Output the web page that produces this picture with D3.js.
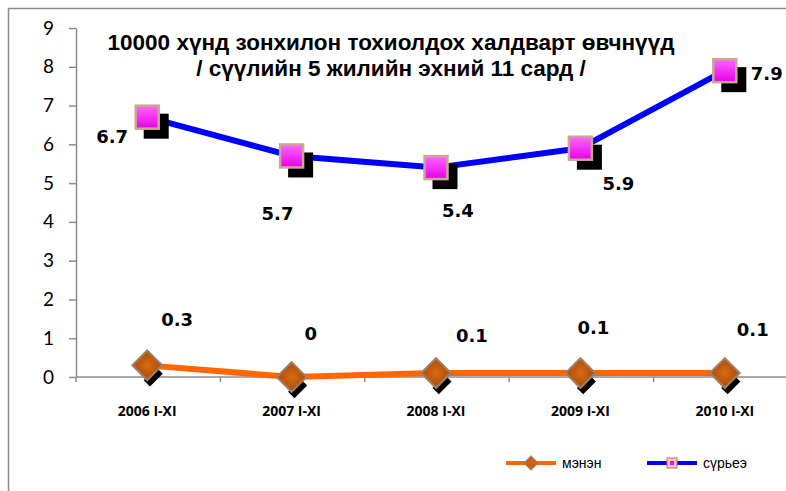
<!DOCTYPE html>
<html>
<head>
<meta charset="utf-8">
<script src="https://cdn.jsdelivr.net/npm/d3@7"></script>
<style>
  body { margin: 0; background: #fff; }
  svg { display: block; }
</style>
</head>
<body>
<div id="chart"></div>
<script>
// chart data
const categories = ["2006 I-XI", "2007 I-XI", "2008 I-XI", "2009 I-XI", "2010 I-XI"];
const menenValues = [0.3, 0, 0.1, 0.1, 0.1];      // мэнэн
const suryeeValues = [6.7, 5.7, 5.4, 5.9, 7.9];  // сүрьеэ
const yTicks = [0, 1, 2, 3, 4, 5, 6, 7, 8, 9];
const seriesNames = ["мэнэн", "сүрьеэ"];
const titleLines = ["10000 хүнд зонхилон тохиолдох халдварт өвчнүүд", "/ сүүлийн 5 жилийн эхний 11 сард /"];

// label offsets (relative to the point) as placed in the original
const suryeeLabelOff = [[-51, 26], [-30, 64], [6, 49], [22, 42], [26, 9]];
const menenLabelOff = [[14, -39], [13, -37], [20, -31], [-3, -39], [12, -37]];

const width = 786, height = 491;
const svg = d3.select('#chart').append('svg')
    .attr('width', width)
    .attr('height', height);

// outer frame (only left and top visible)
svg.append('path')
    .attr('d', 'M8.5,491 L8.5,8.5 L786,8.5')
    .attr('fill', 'none')
    .attr('stroke', '#8c8c8c')
    .attr('stroke-width', 1.5);

const x = d3.scaleBand()
    .domain(categories)
    .range([75, 797]);

const y = d3.scaleLinear()
    .domain([0, 9])
    .range([377, 28]);

const cx = d => x(d) + x.bandwidth() / 2;

// y axis
const yAxis = d3.axisLeft(y)
    .tickValues(yTicks)
    .tickSize(7)
    .tickPadding(15)
    .tickSizeOuter(0);
const yAxisG = svg.append('g')
    .attr('transform', 'translate(76,0)')
    .call(yAxis);
yAxisG.selectAll('text')
    .attr('font-family', 'Lato, "Open Sans", sans-serif')
    .attr('font-size', 19)
    .attr('fill', '#000');
yAxisG.selectAll('line, path').attr('stroke', '#8c8c8c').attr('stroke-width', 1.5);

// x axis, ticks between categories
const xAxisG = svg.append('g')
    .attr('transform', `translate(0,${y(0)})`);
xAxisG.append('line')
    .attr('x1', 76).attr('x2', 786)
    .attr('stroke', '#8c8c8c').attr('stroke-width', 1.5);
xAxisG.selectAll('.xtick')
    .data(categories)
    .enter().append('line')
    .attr('x1', d => x(d) + 1).attr('x2', d => x(d) + 1)
    .attr('y1', 0).attr('y2', 5)
    .attr('stroke', '#8c8c8c').attr('stroke-width', 1.5);
xAxisG.selectAll('.xlabel')
    .data(categories)
    .enter().append('text')
    .attr('x', d => cx(d))
    .attr('y', 39)
    .attr('text-anchor', 'middle')
    .attr('font-family', '"Open Sans", Lato, sans-serif')
    .attr('font-weight', 'bold')
    .attr('font-size', 14)
    .text(d => d);

// title
svg.append('g').selectAll('text')
    .data(titleLines)
    .enter().append('text')
    .attr('x', 391)
    .attr('y', (d, i) => 50 + i * 26)
    .attr('text-anchor', 'middle')
    .attr('font-family', '"Liberation Sans", Arial, sans-serif')
    .attr('font-weight', 'bold')
    .attr('font-size', 22.5)
    .text(d => d);

// gradients for markers
const defs = svg.append('defs');
const pg = defs.append('linearGradient').attr('id', 'pinkGrad')
    .attr('x1', 0).attr('y1', 0).attr('x2', 0).attr('y2', 1);
pg.append('stop').attr('offset', '0%').attr('stop-color', '#ff66ff');
pg.append('stop').attr('offset', '100%').attr('stop-color', '#e600e6');
const og = defs.append('radialGradient').attr('id', 'orangeGrad');
og.append('stop').attr('offset', '0%').attr('stop-color', '#d86a10');
og.append('stop').attr('offset', '100%').attr('stop-color', '#b65410');

const line = d3.line()
    .x((d, i) => cx(categories[i]))
    .y(d => y(d));

// series сүрьеэ
svg.append('path')
    .datum(suryeeValues)
    .attr('d', line)
    .attr('fill', 'none')
    .attr('stroke', '#0000ff')
    .attr('stroke-width', 6)
    .attr('stroke-linejoin', 'round');

// series мэнэн
svg.append('path')
    .datum(menenValues)
    .attr('d', line)
    .attr('fill', 'none')
    .attr('stroke', '#ff6600')
    .attr('stroke-width', 6)
    .attr('stroke-linejoin', 'round');

// square markers with shadow
const sq = svg.append('g').selectAll('g')
    .data(suryeeValues)
    .enter().append('g')
    .attr('transform', (d, i) => `translate(${cx(categories[i])},${y(d)})`);
sq.append('rect')
    .attr('x', -3.5).attr('y', -3.5).attr('width', 25).attr('height', 25)
    .attr('fill', '#000');
sq.append('rect')
    .attr('x', -11.5).attr('y', -11.5).attr('width', 23).attr('height', 23)
    .attr('fill', 'url(#pinkGrad)')
    .attr('stroke', '#c8a890')
    .attr('stroke-width', 2.5);

// diamond markers with shadow
const dm = svg.append('g').selectAll('g')
    .data(menenValues)
    .enter().append('g')
    .attr('transform', (d, i) => `translate(${cx(categories[i])},${y(d)})`);
dm.append('rect')
    .attr('x', 8).attr('y', -5).attr('width', 9).attr('height', 18)
    .attr('fill', '#000')
    .attr('transform', 'rotate(45)');
dm.append('rect')
    .attr('x', -10.5).attr('y', -10.5).attr('width', 21).attr('height', 21)
    .attr('fill', 'url(#orangeGrad)')
    .attr('stroke', '#a08060')
    .attr('stroke-width', 2)
    .attr('transform', 'rotate(45)');

// data labels
const lblFont = '"DejaVu Sans", Verdana, sans-serif';
svg.append('g').attr('class', 'lbl-suryee').selectAll('text')
    .data(suryeeValues)
    .enter().append('text')
    .attr('x', (d, i) => cx(categories[i]) + suryeeLabelOff[i][0])
    .attr('y', (d, i) => y(d) + suryeeLabelOff[i][1])
    .attr('font-family', lblFont)
    .attr('font-weight', 'bold')
    .attr('font-size', 18)
    .text(d => d);
svg.append('g').attr('class', 'lbl-menen').selectAll('text')
    .data(menenValues)
    .enter().append('text')
    .attr('x', (d, i) => cx(categories[i]) + menenLabelOff[i][0])
    .attr('y', (d, i) => y(d) + menenLabelOff[i][1])
    .attr('font-family', lblFont)
    .attr('font-weight', 'bold')
    .attr('font-size', 18)
    .text(d => d);

// legend
const legendColors = ['#ff6600', '#0000ff'];
const legendX = [506, 647];
const lg = svg.append('g').selectAll('g')
    .data(seriesNames)
    .enter().append('g')
    .attr('transform', (d, i) => `translate(${legendX[i]},463)`);
lg.append('line')
    .attr('x1', 0).attr('x2', 50)
    .attr('stroke', (d, i) => legendColors[i])
    .attr('stroke-width', 4);
lg.filter((d, i) => i === 0).append('rect')
    .attr('x', -5).attr('y', -5).attr('width', 10).attr('height', 10)
    .attr('fill', '#d06010').attr('stroke', '#a08060')
    .attr('transform', 'translate(25,0) rotate(45)');
lg.filter((d, i) => i === 1).append('rect')
    .attr('x', 20).attr('y', -5).attr('width', 10).attr('height', 10)
    .attr('fill', '#ffc0d8').attr('stroke', '#a08060');
lg.filter((d, i) => i === 1).append('rect')
    .attr('x', 23).attr('y', -2).attr('width', 4).attr('height', 4)
    .attr('fill', '#ff00ff');
lg.append('text')
    .attr('x', 56)
    .attr('y', 5)
    .attr('font-family', '"Liberation Sans", Arial, sans-serif')
    .attr('font-size', 14)
    .text(d => d);
</script>
</body>
</html>
